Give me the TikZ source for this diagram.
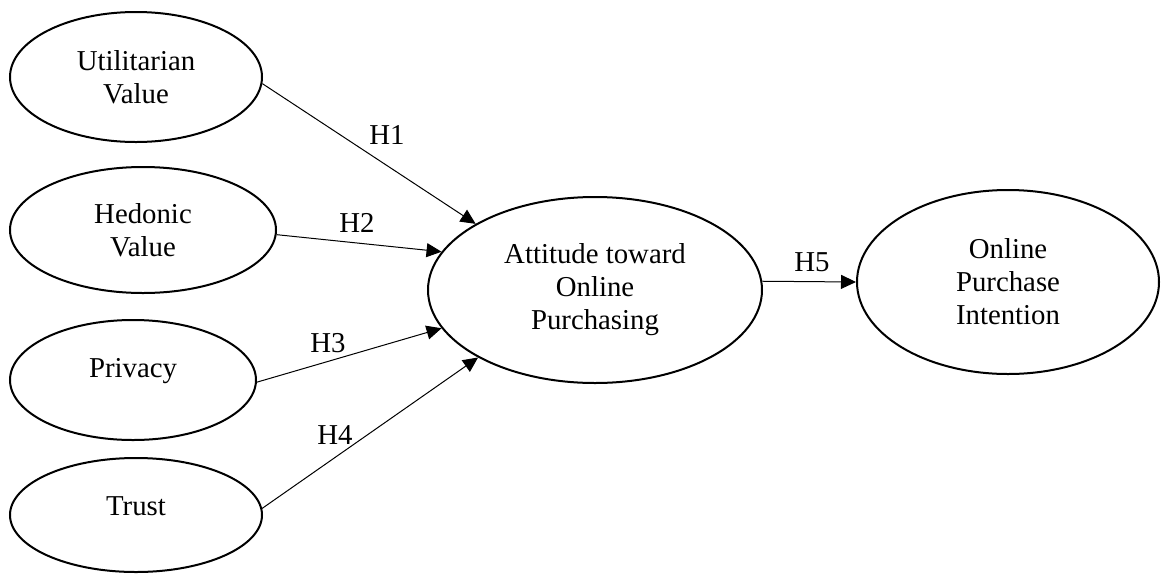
\documentclass[tikz,border=0pt]{standalone}
\usepackage{fontspec}
\setmainfont{Liberation Serif}
\usetikzlibrary{shapes.geometric,arrows.meta}

\begin{document}
\begin{tikzpicture}[x=0.5pt,y=-0.5pt]
		\useasboundingbox (0,0) rectangle (1163,574);
		\tikzstyle{construct}=[draw,line width=1pt,ellipse,inner sep=0pt,align=center,font=\fontsize{14.4pt}{16.5pt}\selectfont]
		\tikzstyle{hyp}=[inner sep=0pt,font=\fontsize{14.4pt}{16.5pt}\selectfont]
		\node[construct,minimum width=126pt,minimum height=65pt] (uv) at (136,77) {Utilitarian\\Value};
		\node[construct,minimum width=133pt,minimum height=63pt] (hv) at (143,230) {Hedonic\\Value};
		\node[construct,text height=9.5pt,text depth=12.5pt,minimum width=123pt,minimum height=60pt] (pv) at (133,380) {Privacy};
		\node[construct,text height=9.5pt,text depth=9.5pt,minimum width=126pt,minimum height=57pt] (tr) at (136,515) {Trust};
		\node[construct,minimum width=167pt,minimum height=93pt] (att) at (595,290) {Attitude toward\\Online\\Purchasing};
		\node[construct,minimum width=151pt,minimum height=92pt] (opi) at (1008,282) {Online\\Purchase\\Intention};
		\node[hyp] (h1) at (387,135) {H1};
		\node[hyp] (h2) at (357,223) {H2};
		\node[hyp] (h3) at (328,343) {H3};
		\node[hyp] (h4) at (335,435) {H4};
		\node[hyp] (h5) at (812,262) {H5};
		\tikzstyle{every edge}+=[-{Triangle[length=7.5pt,width=7pt]},line width=0.5pt]
		\draw (uv.-3) edge (att.151)
		(hv.-2) edge (att.166)
		(pv.-1) edge (att.194)
		(tr.3) edge (att.210)
		(att.3) edge (opi.west);
\end{tikzpicture}
\end{document}
